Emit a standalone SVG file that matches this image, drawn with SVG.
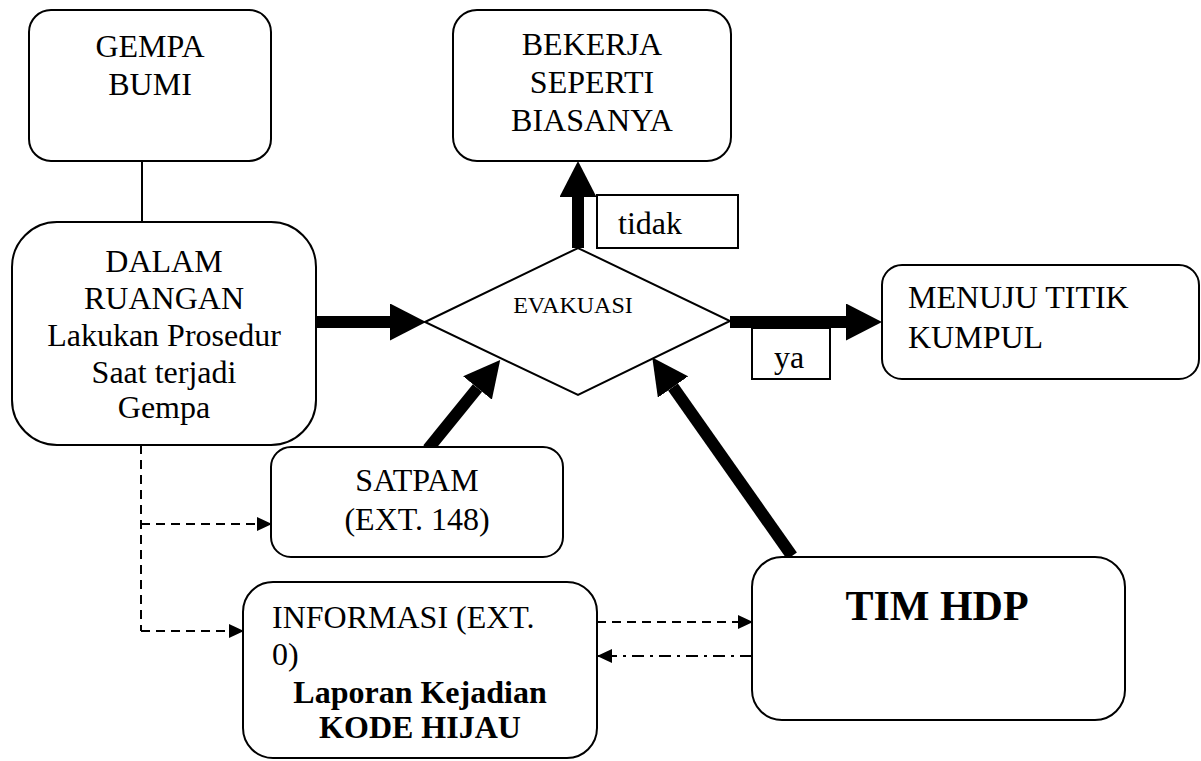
<svg xmlns="http://www.w3.org/2000/svg" width="1201" height="761" viewBox="0 0 1201 761">
<style>
.box{fill:#fff;stroke:#000;stroke-width:2}
.t{font-family:"Liberation Serif","Times New Roman",serif;font-size:32px;fill:#000}
.c{text-anchor:middle}
.b{font-weight:bold}
.thick{stroke:#000;stroke-width:12;fill:none}
.thin{stroke:#000;stroke-width:2;fill:none}
.dash{stroke-dasharray:9,6}
.dashdot{stroke-dasharray:12,6,3,6}
</style>
<defs>
<marker id="big" markerUnits="userSpaceOnUse" viewBox="0 0 36 37" markerWidth="36" markerHeight="37" refX="0" refY="18.5" orient="auto">
<path d="M0,0 L36,18.5 L0,37 z" fill="#000"/>
</marker>
<marker id="small" markerUnits="userSpaceOnUse" viewBox="0 0 15 14" markerWidth="15" markerHeight="14" refX="14" refY="7" orient="auto">
<path d="M0,0 L15,7 L0,14 z" fill="#000"/>
</marker>
</defs>
<g id="connectors">
<line class="thin" x1="142" y1="161" x2="142" y2="222"/>
<line class="thick" x1="316" y1="322" x2="390" y2="322" marker-end="url(#big)"/>
<line class="thick" x1="578" y1="248" x2="578" y2="197" marker-end="url(#big)"/>
<line class="thick" x1="730" y1="322" x2="846" y2="322" marker-end="url(#big)"/>
<line class="thick" x1="428" y1="449" x2="477.5" y2="388" marker-end="url(#big)"/>
<line class="thick" x1="792" y1="556" x2="673" y2="387" marker-end="url(#big)"/>
<path class="thin dash" d="M141,445 L141,631"/>
<line class="thin dash" x1="141" y1="524" x2="271" y2="524" marker-end="url(#small)"/>
<line class="thin dash" x1="141" y1="631" x2="243" y2="631" marker-end="url(#small)"/>
<line class="thin dash" x1="597" y1="622" x2="752" y2="622" marker-end="url(#small)"/>
<line class="thin dashdot" x1="752" y1="656" x2="598" y2="656" marker-end="url(#small)"/>
</g>
<g id="gempa">
<rect class="box" x="29" y="10" width="242" height="151" rx="22"/>
<text class="t c" x="150" y="57">GEMPA</text>
<text class="t c" x="150" y="95">BUMI</text>
</g>
<g id="dalam">
<rect class="box" x="12" y="222" width="304" height="223" rx="45"/>
<text class="t c" x="164" y="272">DALAM</text>
<text class="t c" x="164" y="309">RUANGAN</text>
<text class="t c" x="164" y="346">Lakukan Prosedur</text>
<text class="t c" x="164" y="383">Saat terjadi</text>
<text class="t c" x="164" y="418">Gempa</text>
</g>
<g id="bekerja">
<rect class="box" x="453" y="10" width="278" height="151" rx="24"/>
<text class="t c" x="592" y="55">BEKERJA</text>
<text class="t c" x="592" y="93">SEPERTI</text>
<text class="t c" x="592" y="131">BIASANYA</text>
</g>
<g id="tidak">
<rect class="box" x="597" y="195" width="141" height="53"/>
<text class="t" x="618" y="234">tidak</text>
</g>
<g id="evakuasi">
<polygon class="box" points="425,322 578,248 730,321 578,395"/>
<text class="t c" x="573" y="313" style="font-size:24px">EVAKUASI</text>
</g>
<g id="ya">
<rect class="box" x="752" y="328" width="78" height="51"/>
<text class="t c" x="789" y="368">ya</text>
</g>
<g id="menuju">
<rect class="box" x="882" y="265" width="317" height="114" rx="20"/>
<text class="t" x="908" y="308">MENUJU TITIK</text>
<text class="t" x="908" y="348">KUMPUL</text>
</g>
<g id="satpam">
<rect class="box" x="271" y="447" width="292" height="110" rx="20"/>
<text class="t c" x="417" y="491">SATPAM</text>
<text class="t c" x="417" y="530">(EXT. 148)</text>
</g>
<g id="informasi">
<rect class="box" x="243" y="582" width="354" height="176" rx="30"/>
<text class="t" x="272" y="628">INFORMASI (EXT.</text>
<text class="t" x="272" y="665">0)</text>
<text class="t c b" x="420" y="703">Laporan Kejadian</text>
<text class="t c b" x="420" y="738">KODE HIJAU</text>
</g>
<g id="timhdp">
<rect class="box" x="752" y="557" width="373" height="163" rx="30"/>
<text class="t c b" x="937" y="620" style="font-size:42px">TIM HDP</text>
</g>
</svg>
